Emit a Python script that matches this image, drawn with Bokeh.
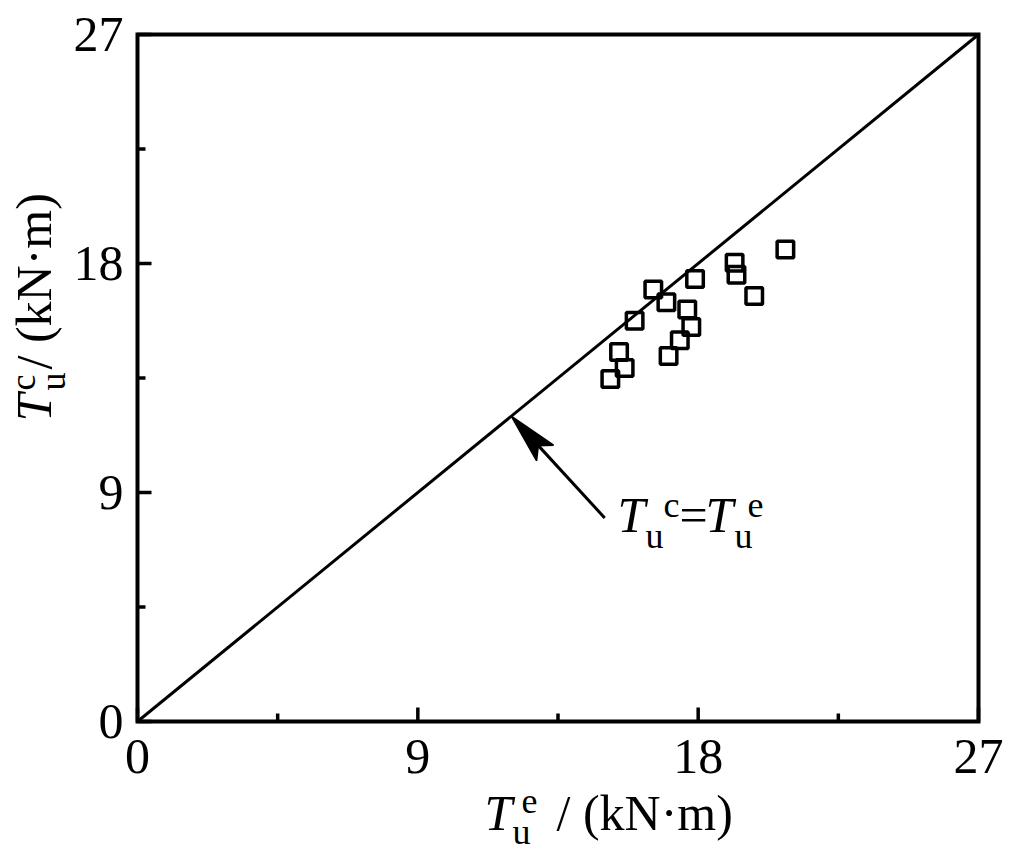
import math
from bokeh.plotting import figure
from bokeh.models import Range1d, Label
from bokeh.core.properties import value
from bokeh.embed import file_html
from bokeh.resources import INLINE

# ---- data ----
exp_torque = [20.80, 19.17, 19.23, 19.80, 17.90, 16.56, 16.98, 17.65, 15.96,
              17.78, 17.41, 17.05, 15.46, 15.64, 15.18]
calc_torque = [18.55, 18.03, 17.56, 16.72, 17.39, 16.98, 16.48, 16.19, 15.75,
               15.50, 14.98, 14.36, 14.52, 13.89, 13.46]
ref_line_x = [0, 27]
ref_line_y = [0, 27]
major_ticks = [0, 9, 18, 27]
major_labels = ["0", "9", "18", "27"]
minor_ticks = [4.5, 13.5, 22.5]
arrow_tip = (12, 12)
arrow_tail = (15, 8)

# ---- layout (pixels in the picture) ----
W, H = 1010, 860
AX_L, AX_R, AX_T, AX_B = 137, 978, 34, 721   # plot box edges
XMIN, XMAX, YMIN, YMAX = 0, 27, 0, 27
SX = (AX_R - AX_L) / (XMAX - XMIN)
SY = (AX_B - AX_T) / (YMAX - YMIN)
K = 0.35          # baseline correction (fraction of font size)
FONT = "Liberation Serif"


def pos(px, py):
    """picture pixel -> data coordinates (for text / decoration placement)"""
    return XMIN + (px - AX_L) / SX, YMIN + (AX_B - py) / SY


x0, y_top = pos(0, 0)
x1, y_bot = pos(W, H)
p = figure(width=W, height=H, output_backend="svg", toolbar_location=None,
           x_range=Range1d(x0, x1), y_range=Range1d(y_bot, y_top),
           x_axis_location=None, y_axis_location=None, min_border=0)
p.grid.visible = False
p.outline_line_color = None
p.background_fill_color = "white"
p.border_fill_color = "white"

# ---- axes box, ticks, tick labels ----
p.quad(left=[XMIN], right=[XMAX], bottom=[YMIN], top=[YMAX],
       fill_alpha=0, line_color="black", line_width=4, line_join="miter")

MAJ, MIN_ = 14, 8
nM, nm = len(major_ticks), len(minor_ticks)
p.segment(x0=major_ticks, y0=[YMIN] * nM, x1=major_ticks, y1=[YMIN + MAJ / SY] * nM,
          line_color="black", line_width=3.5)
p.segment(x0=minor_ticks, y0=[YMIN] * nm, x1=minor_ticks, y1=[YMIN + MIN_ / SY] * nm,
          line_color="black", line_width=3.5)
p.segment(x0=[XMIN] * nM, y0=major_ticks, x1=[XMIN + MAJ / SX] * nM, y1=major_ticks,
          line_color="black", line_width=3.5)
p.segment(x0=[XMIN] * nm, y0=minor_ticks, x1=[XMIN + MIN_ / SX] * nm, y1=minor_ticks,
          line_color="black", line_width=3.5)

TS = 50
# x tick labels: glyph baseline 52 px below the axis
p.text(x=major_ticks, y=[YMIN - (52 - K * TS) / SY] * nM, text=major_labels,
       text_font=value(FONT), text_font_size=value(f"{TS}px"), text_color="black",
       text_align="center", text_baseline="alphabetic")
# y tick labels: right edge 14 px left of axis, glyph baseline 17 px below tick
p.text(x=[XMIN - 14 / SX] * nM, y=[t - (17 - K * TS) / SY for t in major_ticks],
       text=major_labels,
       text_font=value(FONT), text_font_size=value(f"{TS}px"), text_color="black",
       text_align="right", text_baseline="alphabetic")

# ---- reference line ----
p.line(ref_line_x, ref_line_y, line_color="black", line_width=3)

# ---- data points ----
p.scatter(exp_torque, calc_torque, marker="square", size=16.5,
          fill_alpha=0, line_color="black", line_width=3.5)

# ---- arrow (shaft + head computed in pixel space) ----
tx, ty = arrow_tip
sx_, sy_ = arrow_tail
dxp = (sx_ - tx) * SX
dyp = (sy_ - ty) * SY
L = math.hypot(dxp, dyp)
ux, uy = dxp / L, dyp / L
nx, ny = -uy, ux
HL, HW, NOTCH = 50, 23, 0.8


def off(a, b):
    return tx + a / SX, ty + b / SY


b1 = off(HL * ux + HW / 2 * nx, HL * uy + HW / 2 * ny)
b2 = off(HL * ux - HW / 2 * nx, HL * uy - HW / 2 * ny)
nt = off(NOTCH * HL * ux, NOTCH * HL * uy)
p.segment(x0=[nt[0]], y0=[nt[1]], x1=[sx_], y1=[sy_], line_color="black", line_width=3)
p.patch([tx, b1[0], nt[0], b2[0]], [ty, b1[1], nt[1], b2[1]],
        fill_color="black", line_color="black", line_width=1.5)


def add_text(txt, px, py, size, italic=False, rotated=False):
    """px, py: glyph origin / baseline position in the picture"""
    if rotated:
        x, y = pos(px - K * size, py)
    else:
        x, y = pos(px, py - K * size)
    p.add_layout(Label(x=x, y=y, text=txt, text_font=FONT,
                       text_font_size=f"{size}px",
                       text_font_style="italic" if italic else "normal",
                       text_color="black", text_align="left",
                       text_baseline="alphabetic",
                       angle=math.pi / 2 if rotated else 0.0))


# annotation  T_u^c = T_u^e
add_text("T", 617, 532, 50, italic=True)
add_text("u", 645, 548, 36)
add_text("c", 663, 517, 36)
add_text("=", 679, 532, 50)
add_text("T", 705, 532, 50, italic=True)
add_text("u", 734, 548, 36)
add_text("e", 747, 517, 36)

# x axis label  T_u^e / (kN·m)
add_text("T", 484, 830, 50, italic=True)
add_text("u", 512, 844, 36)
add_text("e", 521, 813, 36)
add_text("/ (kN·m)", 556, 830, 50)

# y axis label (rotated)  T_u^c / (kN·m)
add_text("T", 51, 421, 50, italic=True, rotated=True)
add_text("u", 65, 390, 36, rotated=True)
add_text("c", 35, 390, 36, rotated=True)
add_text("/ (kN·m)", 51, 369, 50, rotated=True)

open("out.html", "w").write(file_html(p, INLINE))
